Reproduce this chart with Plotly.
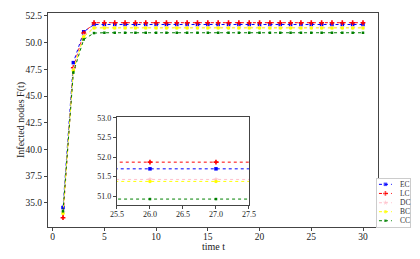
import plotly.graph_objects as go

t = list(range(1, 31))
names = ["EC", "LC", "DC", "BC", "CC"]
colors = ["blue", "red", "pink", "yellow", "green"]
symbols = ["square", "cross", "star", "circle", "square"]
sizes = [3.5, 4, 4, 3.5, 2.5]

EC = [34.55, 48.13, 51.02, 51.70] + [51.70] * 26
LC = [33.60, 47.65, 50.90, 51.87] + [51.87] * 26
DC = [34.10, 47.50, 50.65, 51.43] + [51.43] * 26
BC = [34.00, 47.40, 50.55, 51.38] + [51.38] * 26
CC = [34.20, 47.20, 50.30, 50.90] + [50.93] * 26
series = [EC, LC, DC, BC, CC]

FONT = "Liberation Serif"
fig = go.Figure()
for ax in [("x", "y"), ("x2", "y2")]:
    for n, c, s, sz, y in zip(names, colors, symbols, sizes, series):
        fig.add_trace(go.Scatter(x=t, y=y, name=n, mode="lines+markers", showlegend=False,
                                 line=dict(color=c, width=1, dash="dot"),
                                 marker=dict(color=c, symbol=s, size=sz, line=dict(width=0)),
                                 xaxis=ax[0], yaxis=ax[1]))

# legend glyphs drawn on a hidden helper axis
leg_y = [0.89, 0.70, 0.506, 0.319, 0.131]
for n, c, s, sz, ly in zip(names, colors, symbols, sizes, leg_y):
    fig.add_trace(go.Scatter(x=[0.06, 0.255, 0.45], y=[ly, ly, ly], mode="lines+markers",
                             showlegend=False, hoverinfo="skip",
                             line=dict(color=c, width=1, dash="dot"),
                             marker=dict(color=c, symbol=s, size=[0, sz, 0], line=dict(width=0)),
                             xaxis="x3", yaxis="y3"))
    fig.add_annotation(x=0.64, y=ly, xref="x3", yref="y3", text=n, showarrow=False,
                       xanchor="left", yanchor="middle",
                       font=dict(family=FONT, size=7.5, color="#333"))

axis_common = dict(showgrid=False, zeroline=False, showline=True, linecolor="#444",
                   linewidth=1, mirror=True, ticks="outside", ticklen=3, tickcolor="#444",
                   automargin=False)
W_PLOT = 330 / 372
fig.update_layout(
    width=412, height=251,
    margin=dict(l=40, r=0, t=5, b=32),
    plot_bgcolor="white", paper_bgcolor="white",
    font=dict(family=FONT, size=9.5, color="#222"),
    showlegend=False,
    xaxis=dict(domain=[0, W_PLOT], range=[-0.45, 31.45], tickvals=[0, 5, 10, 15, 20, 25, 30],
               ticklabelstandoff=-2, **axis_common),
    yaxis=dict(range=[32.73, 52.78], tickvals=[35, 37.5, 40, 42.5, 45, 47.5, 50, 52.5],
               ticktext=["35.0", "37.5", "40.0", "42.5", "45.0", "47.5", "50.0", "52.5"],
               **axis_common),
    xaxis2=dict(domain=[0.209 * W_PLOT, 0.609 * W_PLOT], anchor="y2", range=[25.5, 27.5],
                tickvals=[25.5, 26, 26.5, 27, 27.5],
                ticktext=["25.5", "26.0", "26.5", "27.0", "27.5"],
                tickfont=dict(size=8), ticklabelstandoff=-2, **axis_common),
    yaxis2=dict(domain=[0.103, 0.514], anchor="x2", range=[50.78, 53.02],
                tickvals=[51, 51.5, 52, 52.5, 53],
                ticktext=["51.0", "51.5", "52.0", "52.5", "53.0"],
                tickfont=dict(size=8), **axis_common),
    xaxis3=dict(domain=[329 / 372, 362 / 372], anchor="y3", range=[0, 1], showgrid=False,
                zeroline=False, showticklabels=False, ticks="", showline=True, mirror=True,
                linecolor="#ccc", linewidth=1, fixedrange=True, automargin=False),
    yaxis3=dict(domain=[0, 0.224], anchor="x3", range=[0, 1], showgrid=False,
                zeroline=False, showticklabels=False, ticks="", showline=True, mirror=True,
                linecolor="#ccc", linewidth=1, fixedrange=True, automargin=False),
)
fig.add_annotation(text="time t", xref="paper", yref="paper", x=W_PLOT / 2, y=-0.09,
                   yanchor="middle", showarrow=False, font=dict(family=FONT, size=10, color="#222"))
fig.add_annotation(text="Infected nodes F(t)", xref="paper", yref="paper", x=-0.0726, y=0.5,
                   textangle=-90, xanchor="center", yanchor="middle", showarrow=False,
                   font=dict(family=FONT, size=10, color="#222"))
fig.write_html("out.html")
